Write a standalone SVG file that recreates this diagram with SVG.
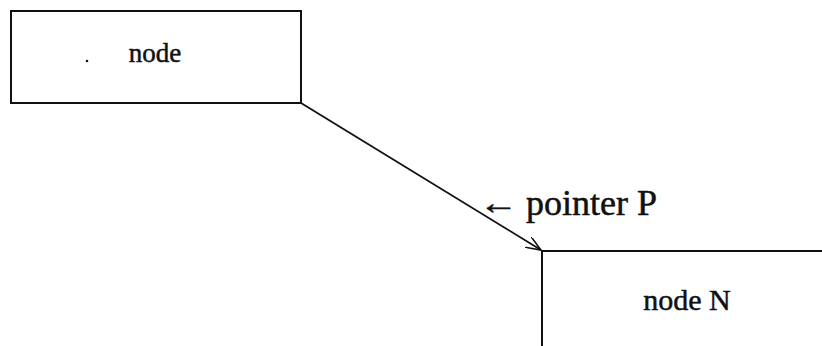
<svg xmlns="http://www.w3.org/2000/svg" width="822" height="346" viewBox="0 0 822 346">
  <style>
    .box { fill: none; stroke: #111; stroke-width: 2; }
    .edge { fill: none; stroke: #111; stroke-width: 1.8; }
    .label { font-family: "Liberation Serif", "Times New Roman", serif; fill: #111; stroke: #111; stroke-width: 0.5; }
  </style>
  <defs>
    <marker id="open-arrow" viewBox="0 0 16 12" refX="15" refY="6" markerWidth="16" markerHeight="12" markerUnits="userSpaceOnUse" orient="auto">
      <path d="M0,0 L15,6 L0,12" fill="none" stroke="#111" stroke-width="1.6"/>
    </marker>
  </defs>
  <rect width="822" height="346" fill="#fff"/>

  <g id="node">
    <rect class="box" x="11" y="11" width="290" height="92"/>
    <circle cx="87" cy="61" r="1.3" fill="#111"/>
    <text class="label" x="155" y="62" font-size="27" text-anchor="middle">node</text>
  </g>

  <g id="node-N">
    <path class="box" d="M542,346 V251 H822"/>
    <text class="label" x="687" y="310" font-size="30" text-anchor="middle">node N</text>
  </g>

  <g id="connectors">
    <line class="edge" x1="301" y1="103" x2="541" y2="250" marker-end="url(#open-arrow)"/>
    <text class="label" x="0" y="214" font-size="34" transform="translate(479 0) scale(1.15 1)">←</text>
    <text class="label" x="526" y="215" font-size="36">pointer P</text>
  </g>
</svg>
